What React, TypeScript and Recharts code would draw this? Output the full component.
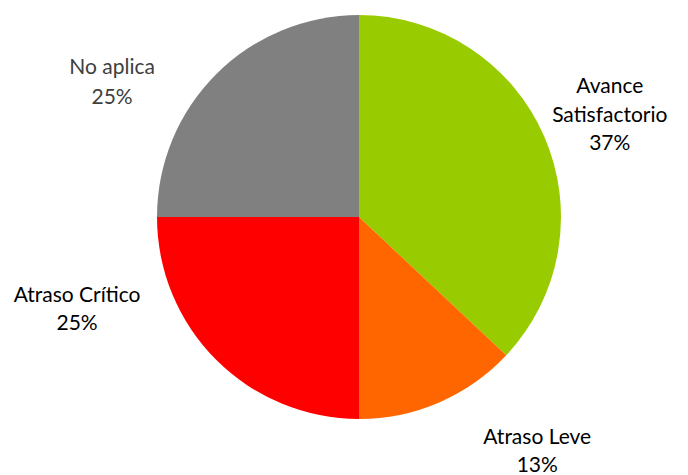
import { PieChart, Pie, Cell } from 'recharts';

const categories = ['Avance\nSatisfactorio', 'Atraso Leve', 'Atraso Crítico', 'No aplica'];
const percents = [37, 13, 25, 25];
const colors = ['#99CC00', '#FF6600', '#FF0000', '#808080'];

const data = categories.map((name, i) => ({ name, value: percents[i] }));

// nudges so labels sit where the original layout put them
const labelShift = [
  [3, 3],
  [71, -16],
  [-91, -101],
  [-56, 54],
];

const RAD = Math.PI / 180;

function renderLabel(props: any) {
  const { cx, cy, midAngle, outerRadius, index, name, value } = props;
  const r = outerRadius + 68;
  const x = cx + r * Math.cos(-midAngle * RAD) + labelShift[index][0];
  const y = cy + r * Math.sin(-midAngle * RAD) + labelShift[index][1];
  const lines = [...String(name).split('\n'), `${value}%`];
  const grey = index === 3;
  const lh = grey ? 30 : 28.5;
  const top = y - ((lines.length - 1) * lh) / 2;
  return (
    <text
      x={x}
      y={top}
      textAnchor="middle"
      dominantBaseline="central"
      fill={grey ? '#404040' : '#000'}
      fontSize={21}
      fontFamily="Lato, 'Open Sans', sans-serif"
    >
      {lines.map((l, i) => (
        <tspan key={i} x={x} dy={i === 0 ? 0 : lh}>
          {l}
        </tspan>
      ))}
    </text>
  );
}

export default function App() {
  return (
    <div style={{ position: 'absolute', left: 0, top: 0, width: 688, height: 475, background: '#fff' }}>
      <PieChart width={688} height={475} margin={{ top: 0, right: 0, bottom: 0, left: 0 }}>
        <Pie
          data={data}
          dataKey="value"
          nameKey="name"
          cx={359}
          cy={217}
          outerRadius={202}
          startAngle={90}
          endAngle={-270}
          stroke="none"
          label={renderLabel}
          labelLine={false}
          isAnimationActive={false}
        >
          {data.map((_, i) => (
            <Cell key={i} fill={colors[i]} />
          ))}
        </Pie>
      </PieChart>
    </div>
  );
}
